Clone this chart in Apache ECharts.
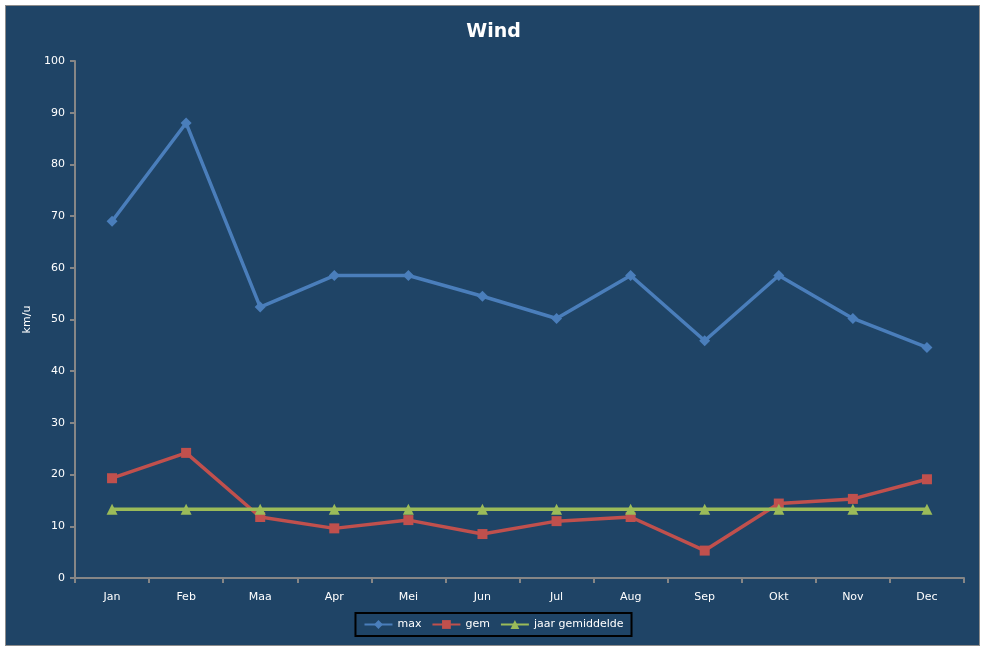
<!DOCTYPE html>
<html>
<head>
<meta charset="utf-8">
<script src="https://cdn.jsdelivr.net/npm/echarts@6/dist/echarts.min.js"></script>
<style>
  html, body { margin: 0; padding: 0; background: #ffffff; }
  #frame {
    position: absolute; left: 5px; top: 5px; width: 973px; height: 639px;
    background: #1f4466; border: 1px solid #8c8c8c;
  }
  #chart { position: absolute; left: 0; top: 0; width: 987px; height: 648px; }
</style>
</head>
<body>
<div id="frame"></div>
<div id="chart"></div>
<script>
// maanden
var months = ['Jan', 'Feb', 'Maa', 'Apr', 'Mei', 'Jun', 'Jul', 'Aug', 'Sep', 'Okt', 'Nov', 'Dec'];
// maximale wind per maand (km/u)
var maxWind = [69, 88, 52.4, 58.5, 58.5, 54.5, 50.2, 58.5, 45.9, 58.5, 50.2, 44.6];
// gemiddelde wind per maand (km/u)
var gemWind = [19.3, 24.2, 11.8, 9.6, 11.2, 8.5, 11.0, 11.8, 5.3, 14.4, 15.3, 19.1];
// jaargemiddelde
var jaarGem = [13.3, 13.3, 13.3, 13.3, 13.3, 13.3, 13.3, 13.3, 13.3, 13.3, 13.3, 13.3];

var myChart = echarts.init(document.getElementById('chart'));
var txt = { color: '#ffffff', fontFamily: 'DejaVu Sans', fontSize: 11 };

var option = {
    backgroundColor: 'transparent',
    title: {
        text: 'Wind',
        left: 'center',
        top: 18,
        textStyle: { color: '#ffffff', fontFamily: 'DejaVu Sans', fontSize: 19, fontWeight: 'bold' }
    },
    legend: {
        bottom: 12,
        left: 'center',
        itemWidth: 28,
        itemHeight: 11,
        itemGap: 10,
        padding: [6, 8, 6, 8],
        borderColor: '#000000',
        borderWidth: 2,
        textStyle: txt,
        data: ['max', 'gem', 'jaar gemiddelde']
    },
    grid: { left: 75, right: 23, top: 61, bottom: 70 },
    xAxis: {
        type: 'category',
        data: months,
        boundaryGap: true,
        axisLine: { lineStyle: { color: '#868686', width: 2 } },
        axisTick: { show: true, length: 5, lineStyle: { color: '#868686', width: 2 } },
        axisLabel: Object.assign({ margin: 14 }, txt),
        splitLine: { show: false }
    },
    yAxis: {
        type: 'value',
        min: 0,
        max: 100,
        interval: 10,
        name: 'km/u',
        nameLocation: 'middle',
        nameRotate: 90,
        nameGap: 35,
        nameTextStyle: txt,
        axisLine: { show: true, lineStyle: { color: '#868686', width: 2 } },
        axisTick: { show: true, length: 5, lineStyle: { color: '#868686', width: 2 } },
        axisLabel: Object.assign({ margin: 10 }, txt),
        splitLine: { show: false }
    },
    series: [{
        name: 'max',
        type: 'line',
        data: maxWind,
        symbol: 'diamond',
        symbolSize: 11,
        color: '#4a7ebb',
        lineStyle: { width: 3.5 },
        z: 3
    }, {
        name: 'gem',
        type: 'line',
        data: gemWind,
        symbol: 'rect',
        symbolSize: 10,
        color: '#c0504d',
        lineStyle: { width: 3.5 },
        z: 2
    }, {
        name: 'jaar gemiddelde',
        type: 'line',
        data: jaarGem,
        symbol: 'triangle',
        symbolSize: 11,
        color: '#9bbb59',
        lineStyle: { width: 3.5 },
        z: 4
    }]
};
myChart.setOption(option);
</script>
</body>
</html>
